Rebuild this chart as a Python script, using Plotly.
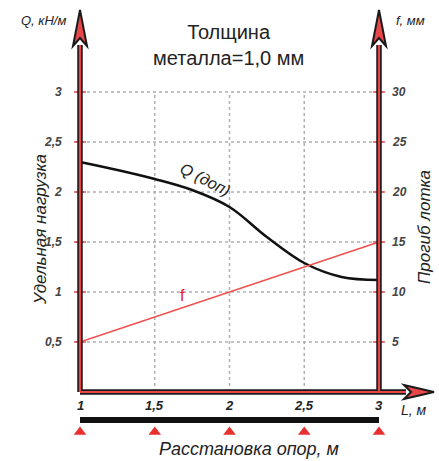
import plotly.graph_objects as go

# ---- data ----
L_q = [1.0, 1.25, 1.5, 1.75, 2.0, 2.25, 2.5, 2.75, 3.0]
Q_dop = [2.30, 2.22, 2.13, 2.02, 1.85, 1.55, 1.29, 1.15, 1.12]
L_f = [1.0, 3.0]
f_vals = [5, 15]
x_ticks = [1, 1.5, 2, 2.5, 3]
x_tick_labels = ["1", "1,5", "2", "2,5", "3"]
q_ticks = [0.5, 1, 1.5, 2, 2.5, 3]
q_tick_labels = ["0,5", "1", "1,5", "2", "2,5", "3"]
f_ticks = [5, 10, 15, 20, 25, 30]
f_tick_labels = ["5", "10", "15", "20", "25", "30"]
supports = [1, 1.5, 2, 2.5, 3]

W, H = 439, 461
px_per_x = 149.5
px_per_y = 100.0
x0 = 1 - 80 / px_per_x
x1 = x0 + W / px_per_x
ytop = 392 / px_per_y
ybot = ytop - H / px_per_y

def dx(px):
    return px / px_per_x

def dy(px):
    return px / px_per_y

fig = go.Figure()

shapes = []
GRID = dict(color="#b0b0b0", width=1.5, dash="dot")
for q in q_ticks:
    shapes.append(dict(type="line", xref="x", yref="y", x0=1 - dx(5), x1=3 + dx(5), y0=q, y1=q, line=GRID, layer="below"))
    for xx in (1, 3):
        shapes.append(dict(type="line", xref="x", yref="y", x0=xx - dx(6), x1=xx + dx(6), y0=q, y1=q,
                           line=dict(color="#e85050", width=1.5), layer="below"))
for xv in x_ticks[1:-1]:
    shapes.append(dict(type="line", xref="x", yref="y", x0=xv, x1=xv, y0=0, y1=3, line=GRID, layer="below"))

# axis lines (black outline with red core)
axis_top = 3.47
axis_right = 3 + dx(27)
for (ax0, ay0, ax1, ay1) in [(1, 0, 1, axis_top), (3, 0, 3, axis_top), (1, 0, axis_right, 0)]:
    shapes.append(dict(type="line", xref="x", yref="y", x0=ax0, y0=ay0, x1=ax1, y1=ay1,
                       line=dict(color="#1a1a1a", width=5.5)))
for (ax0, ay0, ax1, ay1) in [(1, 0, 1, axis_top), (3, 0, 3, axis_top), (1, 0, axis_right, 0)]:
    shapes.append(dict(type="line", xref="x", yref="y", x0=ax0, y0=ay0, x1=ax1, y1=ay1,
                       line=dict(color="#e8474a", width=2.2)))

# arrowheads
def up_arrow(xc):
    tip = dy(392 - 10)
    base = dy(392 - 46)
    notch = dy(392 - 38)
    hw = dx(7)
    return f"M {xc},{tip} L {xc - hw},{base} L {xc},{notch} L {xc + hw},{base} Z"

for xc in (1, 3):
    shapes.append(dict(type="path", xref="x", yref="y", path=up_arrow(xc),
                       fillcolor="#e8474a", line=dict(color="#1a1a1a", width=2)))
tipx = 1 + dx(434 - 80)
basex = 1 + dx(404 - 80)
notchx = 1 + dx(411 - 80)
hh = dy(7)
shapes.append(dict(type="path", xref="x", yref="y",
                   path=f"M {tipx},0 L {basex},{hh} L {notchx},0 L {basex},{-hh} Z",
                   fillcolor="#e8474a", line=dict(color="#1a1a1a", width=2)))

# support beam
bar_y = -dy(420 - 392)
shapes.append(dict(type="line", xref="x", yref="y", x0=1, x1=3, y0=bar_y, y1=bar_y,
                   line=dict(color="#111111", width=6)))

fig.add_trace(go.Scatter(x=L_q, y=Q_dop, mode="lines", line=dict(color="#111111", width=2.5, shape="spline"),
                         showlegend=False, hoverinfo="skip"))
fig.add_trace(go.Scatter(x=L_f, y=f_vals, mode="lines", line=dict(color="#f05050", width=1.5),
                         yaxis="y2", showlegend=False, hoverinfo="skip"))
fig.add_trace(go.Scatter(x=supports, y=[-dy(432 - 392)] * len(supports), mode="markers",
                         marker=dict(symbol="triangle-up", size=11, color="#e83030"),
                         showlegend=False, hoverinfo="skip"))

ann = []
TICKF = dict(family="Liberation Sans", size=12, color="#444444")
for q, t in zip(q_ticks, q_tick_labels):
    ann.append(dict(x=1 - dx(16), y=q, xref="x", yref="y", text=f"<b><i>{t}</i></b>", showarrow=False,
                    xanchor="right", yanchor="middle", font=TICKF))
for fv, t in zip(f_ticks, f_tick_labels):
    ann.append(dict(x=3 + dx(11), y=fv, xref="x", yref="y2", text=f"<b><i>{t}</i></b>", showarrow=False,
                    xanchor="left", yanchor="middle", font=TICKF))
for xv, t in zip(x_ticks, x_tick_labels):
    ann.append(dict(x=xv, y=-dy(405 - 392), xref="x", yref="y", text=f"<b><i>{t}</i></b>", showarrow=False,
                    xanchor="center", yanchor="middle", font=dict(family="Liberation Sans", size=13, color="#222222")))

TXT = dict(family="Liberation Sans", color="#222222")
C = dict(xref="paper", yref="paper", showarrow=False, xanchor="center", yanchor="middle")
ann += [
    dict(C, x=228 / W, y=1 - 45 / H, text="Толщина<br>металла=1,0 мм",
         font=dict(TXT, size=20), align="center"),
    dict(C, x=43 / W, y=1 - 20 / H, text="<i>Q, кН/м</i>", font=dict(TXT, size=13)),
    dict(C, x=410 / W, y=1 - 21 / H, text="<i>f, мм</i>", font=dict(TXT, size=13)),
    dict(C, x=40 / W, y=1 - 230 / H, text="<i>Удельная нагрузка</i>",
         textangle=-90, font=dict(TXT, size=17)),
    dict(C, x=424 / W, y=1 - 227 / H, text="<i>Прогиб лотка</i>",
         textangle=-90, font=dict(TXT, size=17)),
    dict(C, x=414 / W, y=1 - 410 / H, text="<i>L, м</i>", font=dict(TXT, size=14)),
    dict(C, x=249 / W, y=1 - 449 / H, text="<i>Расстановка опор, м</i>", font=dict(TXT, size=18)),
    dict(C, x=205 / W, y=1 - 180 / H, text="<i>Q (доп)</i>",
         textangle=27, font=dict(TXT, size=16)),
    dict(C, x=182 / W, y=1 - 295 / H, text="f",
         font=dict(family="Liberation Sans", size=16, color="#e82020")),
]

fig.update_layout(
    width=W, height=H,
    margin=dict(l=0, r=0, t=0, b=0),
    paper_bgcolor="white", plot_bgcolor="white",
    xaxis=dict(range=[x0, x1], visible=False, fixedrange=True),
    yaxis=dict(range=[ybot, ytop], visible=False, fixedrange=True),
    yaxis2=dict(range=[ybot * 10, ytop * 10], visible=False, overlaying="y", fixedrange=True),
    shapes=shapes,
    annotations=ann,
)

fig.write_html("out.html", config={"displayModeBar": False},
               post_script="document.body.style.margin='0';")
